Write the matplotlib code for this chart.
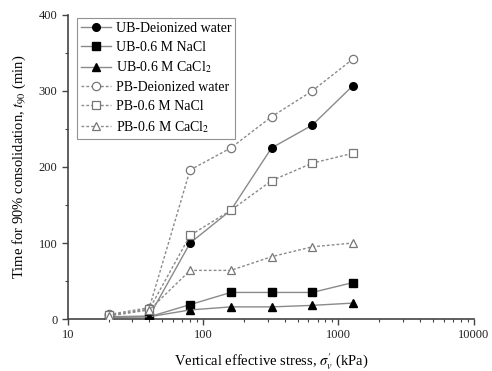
import numpy as np
import matplotlib
matplotlib.use("Agg")
import matplotlib.pyplot as plt
from matplotlib.ticker import FixedLocator, FuncFormatter, LogLocator, NullFormatter

plt.rcParams['font.family'] = ['Liberation Serif', 'DejaVu Serif']
plt.rcParams['mathtext.fontset'] = 'stix'

# vertical effective stress (kPa)
stress = [20, 40, 80, 160, 320, 640, 1280]

# t90 (min)
ub_water = [3, 4, 100, 143, 225, 255, 307]
ub_nacl = [3, 3, 19, 35, 35, 35, 48]
ub_cacl2 = [2, 3, 12, 16, 16, 18, 21]
pb_water = [6, 15, 196, 225, 266, 300, 342]
pb_nacl = [5, 13, 110, 143, 182, 205, 218]
pb_cacl2 = [4, 12, 64, 64, 82, 95, 100]

labels = ['UB-Deionized water', 'UB-0.6 M NaCl', 'UB-0.6 M CaCl$_2$',
          'PB-Deionized water', 'PB-0.6 M NaCl', 'PB-0.6 M CaCl$_2$']

fig = plt.figure(figsize=(4.92, 3.71), dpi=100)
ax = fig.add_axes([0.138, 0.140, 0.825, 0.820])

line_c = '#8a8a8a'
# UB series: solid line, filled black markers
for y, m, lab in zip([ub_water, ub_nacl, ub_cacl2], ['o', 's', '^'], labels[:3]):
    ax.plot(stress, y, color=line_c, lw=1.0, ls='-', marker=m, ms=5.5,
            mfc='black', mec='black', label=lab, zorder=3)
# PB series: dotted line, open gray markers
for y, m, lab in zip([pb_water, pb_nacl, pb_cacl2], ['o', 's', '^'], labels[3:]):
    ax.plot(stress, y, color=line_c, lw=1.0, ls=(0, (2, 1.5)), marker=m, ms=6,
            mfc='white', mec='#777777', mew=0.9, label=lab, zorder=4)

ax.set_xscale('log')
ax.set_xlim(10, 10000)
ax.set_ylim(0, 400)
ax.yaxis.set_major_locator(FixedLocator([0, 100, 200, 300, 400]))
ax.yaxis.set_minor_locator(FixedLocator([50, 150, 250, 350]))
ax.xaxis.set_major_locator(FixedLocator([10, 100, 1000, 10000]))
ax.xaxis.set_major_formatter(FuncFormatter(lambda v, p: '%d' % v))
ax.xaxis.set_minor_locator(LogLocator(base=10, subs=np.arange(2, 10)))
ax.xaxis.set_minor_formatter(NullFormatter())

for s in ['top', 'right']:
    ax.spines[s].set_visible(False)
for s in ['left', 'bottom']:
    ax.spines[s].set_color('#444444')
    ax.spines[s].set_linewidth(1.2)

ax.tick_params(axis='both', which='major', length=4, width=1, color='#444444',
               labelsize=9, labelcolor='#222222')
ax.tick_params(axis='both', which='minor', length=2.5, width=0.8, color='#444444')

ax.set_xlabel("Vertical effective stress, $\\sigma_v'$ (kPa)", fontsize=10.5, labelpad=7)
ax.set_ylabel('Time for 90% consolidation, $t_{90}$ (min)', fontsize=10.5, labelpad=8)

leg = ax.legend(loc='upper left', bbox_to_anchor=(0.015, 1.0), fontsize=10,
                frameon=True, fancybox=False, edgecolor='#777777',
                handlelength=2.2, handletextpad=0.3, labelspacing=0.42,
                borderpad=0.3, borderaxespad=0.2)
leg.get_frame().set_linewidth(0.8)

fig.savefig('out.png', dpi=100)
